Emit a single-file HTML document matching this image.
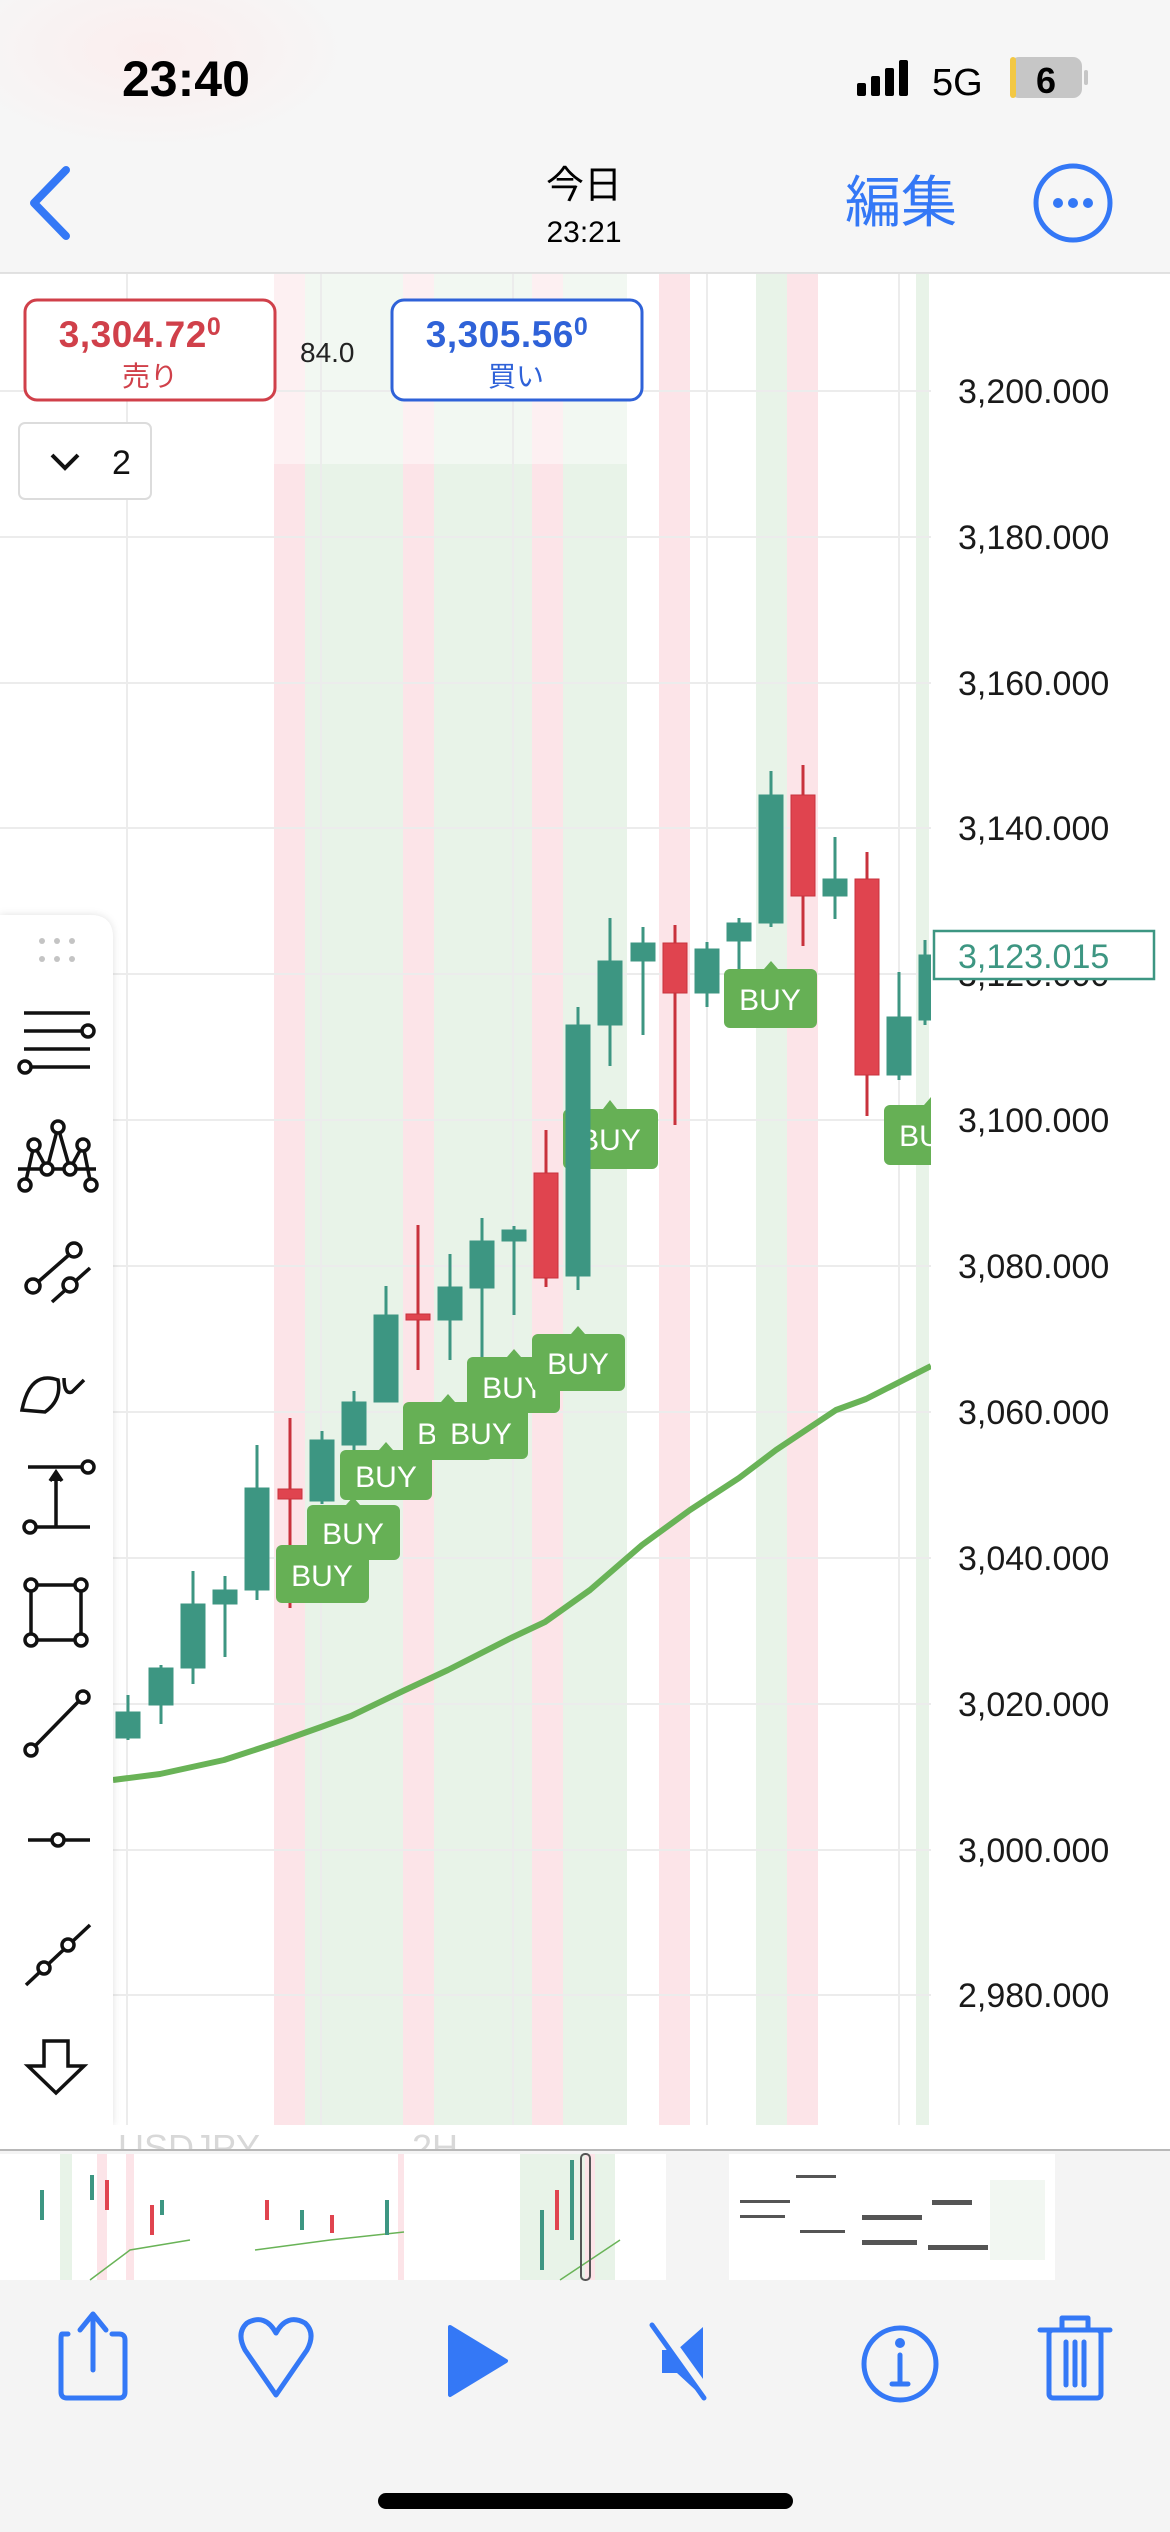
<!DOCTYPE html>
<html><head><meta charset="utf-8"><style>
html,body{margin:0;padding:0;background:#fff;}
svg{display:block}
text{font-family:"Liberation Sans","Noto Sans CJK JP",sans-serif}
</style></head><body>
<svg width="1170" height="2532" viewBox="0 0 1170 2532" xmlns="http://www.w3.org/2000/svg">
<defs>
<radialGradient id="tg" cx="0.55" cy="0" r="0.5">
<stop offset="0" stop-color="#d2d2d2"/><stop offset="1" stop-color="#f6f6f6"/>
</radialGradient>
<radialGradient id="pg" cx="0.5" cy="0.5" r="0.5">
<stop offset="0" stop-color="#fbeeee"/><stop offset="1" stop-color="#f6f6f6"/>
</radialGradient>
<filter id="sh" x="-20%" y="-5%" width="140%" height="110%"><feDropShadow dx="0" dy="0" stdDeviation="4" flood-color="#000" flood-opacity="0.12"/></filter>
<clipPath id="pc"><rect x="0" y="274" width="931" height="1851"/></clipPath>
</defs>
<!-- header -->
<rect x="0" y="0" width="1170" height="273" fill="#f6f6f6"/>
<ellipse cx="600" cy="0" rx="330" ry="140" fill="url(#tg)" opacity="0.9"/>
<ellipse cx="150" cy="50" rx="200" ry="100" fill="url(#pg)"/>
<line x1="0" y1="273" x2="1170" y2="273" stroke="#d8d8d8" stroke-width="1.5"/>
<text x="122" y="96" font-size="50" font-weight="bold" fill="#000">23:40</text>
<rect x="857" y="83" width="9" height="13" rx="2" fill="#000"/>
<rect x="871" y="76" width="9" height="20" rx="2" fill="#000"/>
<rect x="885" y="68" width="9" height="28" rx="2" fill="#000"/>
<rect x="899" y="60" width="9" height="36" rx="2" fill="#000"/>
<text x="932" y="95" font-size="38" fill="#000">5G</text>
<rect x="1010" y="57" width="72" height="41" rx="9" fill="#c6c6c6"/>
<rect x="1010" y="57" width="6" height="41" rx="3" fill="#f3c844"/>
<rect x="1084" y="70" width="4" height="15" rx="2" fill="#c6c6c6"/>
<text x="1046" y="93" font-size="36" font-weight="bold" fill="#000" text-anchor="middle">6</text>
<polyline points="66,170 34,203 66,236" fill="none" stroke="#3478f6" stroke-width="8" stroke-linecap="round" stroke-linejoin="round"/>
<text x="584" y="198" font-size="38" fill="#000" text-anchor="middle">今日</text>
<text x="584" y="242" font-size="30" fill="#000" text-anchor="middle">23:21</text>
<text x="845" y="222" font-size="56" fill="#3478f6">編集</text>
<circle cx="1073" cy="203" r="37" fill="none" stroke="#3478f6" stroke-width="5"/>
<circle cx="1058" cy="203" r="5" fill="#3478f6"/><circle cx="1073" cy="203" r="5" fill="#3478f6"/><circle cx="1088" cy="203" r="5" fill="#3478f6"/>

<!-- chart area -->
<rect x="0" y="274" width="1170" height="1851" fill="#fff"/>
<g>
<rect x="274" y="274" width="31" height="1851" fill="#fce4e8"/>
<rect x="305" y="274" width="98" height="1851" fill="#e8f3e8"/>
<rect x="403" y="274" width="31" height="1851" fill="#fce4e8"/>
<rect x="434" y="274" width="98" height="1851" fill="#e8f3e8"/>
<rect x="532" y="274" width="31" height="1851" fill="#fce4e8"/>
<rect x="563" y="274" width="64" height="1851" fill="#e8f3e8"/>
<rect x="659" y="274" width="31" height="1851" fill="#fce4e8"/>
<rect x="756" y="274" width="31" height="1851" fill="#e8f3e8"/>
<rect x="787" y="274" width="31" height="1851" fill="#fce4e8"/>
<rect x="916" y="274" width="13" height="1851" fill="#e8f3e8"/>
<rect x="0" y="274" width="627" height="190" fill="#fff" opacity="0.45"/>
</g>
<g stroke="#ececec" stroke-width="2">
<line x1="0" y1="391" x2="931" y2="391"/><line x1="0" y1="537" x2="931" y2="537"/>
<line x1="0" y1="683" x2="931" y2="683"/><line x1="0" y1="828" x2="931" y2="828"/>
<line x1="0" y1="974" x2="931" y2="974"/><line x1="0" y1="1120" x2="931" y2="1120"/>
<line x1="0" y1="1266" x2="931" y2="1266"/><line x1="0" y1="1412" x2="931" y2="1412"/>
<line x1="0" y1="1558" x2="931" y2="1558"/><line x1="0" y1="1704" x2="931" y2="1704"/>
<line x1="0" y1="1850" x2="931" y2="1850"/><line x1="0" y1="1995" x2="931" y2="1995"/>
<line x1="127" y1="274" x2="127" y2="2125"/><line x1="321" y1="274" x2="321" y2="2125"/>
<line x1="513" y1="274" x2="513" y2="2125"/><line x1="707" y1="274" x2="707" y2="2125"/>
<line x1="899" y1="274" x2="899" y2="2125"/>
</g>
<!-- y labels -->
<g font-size="34" fill="#1a1a1a">
<text x="958" y="403">3,200.000</text><text x="958" y="549">3,180.000</text>
<text x="958" y="695">3,160.000</text><text x="958" y="840">3,140.000</text>
<text x="958" y="986">3,120.000</text><text x="958" y="1132">3,100.000</text>
<text x="958" y="1278">3,080.000</text><text x="958" y="1424">3,060.000</text>
<text x="958" y="1570">3,040.000</text><text x="958" y="1716">3,020.000</text>
<text x="958" y="1862">3,000.000</text><text x="958" y="2007">2,980.000</text>
</g>
<rect x="934" y="931" width="220" height="48" fill="#fff" stroke="#3d9682" stroke-width="2.5"/>
<text x="958" y="968" font-size="34" fill="#3d9682">3,123.015</text>

<g clip-path="url(#pc)">
<!-- MA -->
<polyline points="113,1780 160,1774 224,1760 276,1743 321,1727 351,1716 403,1691 448,1670 511,1638 545,1622 590,1590 642,1545 690,1510 739,1478 776,1450 836,1410 866,1399 931,1366" fill="none" stroke="#69b357" stroke-width="6" stroke-linejoin="round"/>

<g font-size="30" fill="#fff" text-anchor="middle">
<g><rect x="563" y="1109" width="95" height="60" rx="6" fill="#66b055"/><polygon points="603,1109 610,1100 617,1109" fill="#66b055"/><text x="610" y="1150">BUY</text></g>
</g>
<!-- candles -->
<g fill="#3d9682" stroke="#3d9682">
<line x1="128" y1="1695" x2="128" y2="1740" stroke-width="3"/><rect x="116" y="1712" width="24" height="26"/>
<line x1="161" y1="1665" x2="161" y2="1724" stroke-width="3"/><rect x="149" y="1668" width="24" height="37"/>
<line x1="193" y1="1571" x2="193" y2="1684" stroke-width="3"/><rect x="181" y="1604" width="24" height="64"/>
<line x1="225" y1="1576" x2="225" y2="1657" stroke-width="3"/><rect x="213" y="1590" width="24" height="14"/>
<line x1="257" y1="1445" x2="257" y2="1600" stroke-width="3"/><rect x="245" y="1488" width="24" height="102"/>
<line x1="322" y1="1431" x2="322" y2="1504" stroke-width="3"/><rect x="310" y="1440" width="24" height="61"/>
<line x1="354" y1="1391" x2="354" y2="1456" stroke-width="3"/><rect x="342" y="1402" width="24" height="43"/>
<line x1="386" y1="1286" x2="386" y2="1402" stroke-width="3"/><rect x="374" y="1315" width="24" height="87"/>
<line x1="450" y1="1254" x2="450" y2="1360" stroke-width="3"/><rect x="438" y="1287" width="24" height="33"/>
<line x1="482" y1="1218" x2="482" y2="1360" stroke-width="3"/><rect x="470" y="1241" width="24" height="47"/>
<line x1="514" y1="1226" x2="514" y2="1315" stroke-width="3"/><rect x="502" y="1230" width="24" height="11"/>
<line x1="578" y1="1007" x2="578" y2="1290" stroke-width="3"/><rect x="566" y="1025" width="24" height="251"/>
<line x1="610" y1="918" x2="610" y2="1066" stroke-width="3"/><rect x="598" y="961" width="24" height="64"/>
<line x1="643" y1="927" x2="643" y2="1035" stroke-width="3"/><rect x="631" y="943" width="24" height="18"/>
<line x1="707" y1="942" x2="707" y2="1007" stroke-width="3"/><rect x="695" y="949" width="24" height="44"/>
<line x1="739" y1="918" x2="739" y2="973" stroke-width="3"/><rect x="727" y="923" width="24" height="18"/>
<line x1="771" y1="771" x2="771" y2="927" stroke-width="3"/><rect x="759" y="795" width="24" height="128"/>
<line x1="835" y1="837" x2="835" y2="919" stroke-width="3"/><rect x="823" y="879" width="24" height="17"/>
<line x1="899" y1="972" x2="899" y2="1080" stroke-width="3"/><rect x="887" y="1017" width="24" height="58"/>
<line x1="925" y1="940" x2="925" y2="1025" stroke-width="3"/><rect x="919" y="955" width="12" height="65"/>
</g>
<g fill="#e0444f" stroke="#c8323c">
<line x1="290" y1="1418" x2="290" y2="1608" stroke-width="3"/><rect x="278" y="1489" width="24" height="10"/>
<line x1="418" y1="1225" x2="418" y2="1370" stroke-width="3"/><rect x="406" y="1314" width="24" height="6"/>
<line x1="546" y1="1130" x2="546" y2="1287" stroke-width="3"/><rect x="534" y="1173" width="24" height="105"/>
<line x1="675" y1="925" x2="675" y2="1125" stroke-width="3"/><rect x="663" y="943" width="24" height="50"/>
<line x1="803" y1="765" x2="803" y2="946" stroke-width="3"/><rect x="791" y="795" width="24" height="101"/>
<line x1="867" y1="852" x2="867" y2="1116" stroke-width="3"/><rect x="855" y="879" width="24" height="196"/>
</g>
<!-- BUY labels -->
<g font-size="30" fill="#fff" text-anchor="middle">
<g><rect x="276" y="1545" width="93" height="58" rx="6" fill="#66b055"/><text x="322" y="1586">BUY</text></g>
<g><rect x="307" y="1505" width="93" height="55" rx="6" fill="#66b055"/><polygon points="346,1505 353,1497 360,1505" fill="#66b055"/><text x="353" y="1544">BUY</text></g>
<g><rect x="340" y="1450" width="92" height="50" rx="6" fill="#66b055"/><polygon points="379,1450 386,1442 393,1450" fill="#66b055"/><text x="386" y="1487">BUY</text></g>
<g><rect x="403" y="1402" width="90" height="58" rx="6" fill="#66b055"/><polygon points="441,1402 448,1394 455,1402" fill="#66b055"/><text x="448" y="1444">BUY</text></g>
<g><rect x="435" y="1405" width="93" height="54" rx="6" fill="#66b055"/><polygon points="474,1405 481,1397 488,1405" fill="#66b055"/><text x="481" y="1444">BUY</text></g>
<g><rect x="467" y="1357" width="93" height="56" rx="6" fill="#66b055"/><polygon points="507,1357 514,1349 521,1357" fill="#66b055"/><text x="513" y="1398">BUY</text></g>
<g><rect x="532" y="1334" width="93" height="57" rx="6" fill="#66b055"/><polygon points="571,1334 578,1326 585,1334" fill="#66b055"/><text x="578" y="1374">BUY</text></g>
<g><rect x="724" y="969" width="93" height="59" rx="6" fill="#66b055"/><polygon points="764,969 771,961 778,969" fill="#66b055"/><text x="770" y="1010">BUY</text></g>
<g><rect x="884" y="1105" width="93" height="60" rx="6" fill="#66b055"/><polygon points="924,1105 931,1097 938,1105" fill="#66b055"/><text x="930" y="1146">BUY</text></g>
</g>
</g>

<!-- bid/ask -->
<rect x="25" y="300" width="250" height="100" rx="12" fill="#fff" stroke="#d0404a" stroke-width="3"/>
<text x="140" y="347" font-size="37" fill="#d0404a" text-anchor="middle" font-weight="bold" letter-spacing="0.5">3,304.72<tspan font-size="25" dy="-12">0</tspan></text>
<text x="150" y="386" font-size="28" fill="#d0404a" text-anchor="middle">売り</text>
<text x="300" y="362" font-size="28" fill="#222">84.0</text>
<rect x="392" y="300" width="250" height="100" rx="12" fill="#fff" stroke="#2f62d8" stroke-width="3"/>
<text x="507" y="347" font-size="37" fill="#2f62d8" text-anchor="middle" font-weight="bold" letter-spacing="0.5">3,305.56<tspan font-size="25" dy="-12">0</tspan></text>
<text x="516" y="386" font-size="28" fill="#2f62d8" text-anchor="middle">買い</text>
<rect x="19" y="423" width="132" height="76" rx="6" fill="#fff" stroke="#dcdcdc" stroke-width="2"/>
<polyline points="52,455 65,468 78,455" fill="none" stroke="#111" stroke-width="4"/>
<text x="112" y="474" font-size="34" fill="#111">2</text>

<!-- toolbar -->
<path d="M0,915 H90 Q113,915 113,938 V2125 H0 Z" fill="#fff" filter="url(#sh)"/>
<g fill="#c4c4c4"><circle cx="42" cy="941" r="3"/><circle cx="57" cy="941" r="3"/><circle cx="72" cy="941" r="3"/><circle cx="42" cy="959" r="3"/><circle cx="57" cy="959" r="3"/><circle cx="72" cy="959" r="3"/></g>
<g fill="none" stroke="#111" stroke-width="3.5">
<line x1="24" y1="1013" x2="90" y2="1013"/><line x1="24" y1="1031" x2="82" y2="1031"/><circle cx="88" cy="1031" r="6"/>
<line x1="24" y1="1049" x2="90" y2="1049"/><line x1="32" y1="1067" x2="90" y2="1067"/><circle cx="25" cy="1067" r="6"/>
<line x1="18" y1="1169" x2="96" y2="1169"/>
<polyline points="25,1185 34,1145 47,1169 58,1127 70,1169 83,1145 91,1185"/>
<circle cx="25" cy="1185" r="6" fill="#fff"/><circle cx="34" cy="1145" r="6" fill="#fff"/><circle cx="47" cy="1169" r="6" fill="#fff"/><circle cx="58" cy="1127" r="6" fill="#fff"/><circle cx="70" cy="1169" r="6" fill="#fff"/><circle cx="83" cy="1145" r="6" fill="#fff"/><circle cx="91" cy="1185" r="6" fill="#fff"/>
<line x1="38" y1="1282" x2="70" y2="1254"/><circle cx="33" cy="1286" r="7"/><circle cx="74" cy="1250" r="7"/>
<line x1="52" y1="1302" x2="90" y2="1268"/><circle cx="70" cy="1285" r="7" fill="#fff"/>
<path d="M22,1410 Q30,1370 58,1380 Q62,1400 45,1412 Z"/><path d="M64,1378 Q64,1395 72,1392 L84,1380"/>
<line x1="28" y1="1467" x2="82" y2="1467"/><circle cx="88" cy="1467" r="6"/>
<line x1="56" y1="1527" x2="56" y2="1472"/><polyline points="50,1481 56,1472 62,1481" fill="#111"/>
<line x1="36" y1="1527" x2="90" y2="1527"/><circle cx="30" cy="1527" r="6"/>
<rect x="31" y="1585" width="50" height="55"/><circle cx="31" cy="1585" r="6" fill="#fff"/><circle cx="81" cy="1585" r="6" fill="#fff"/><circle cx="31" cy="1640" r="6" fill="#fff"/><circle cx="81" cy="1640" r="6" fill="#fff"/>
<line x1="35" y1="1746" x2="79" y2="1701"/><circle cx="31" cy="1750" r="6"/><circle cx="83" cy="1697" r="6"/>
<line x1="28" y1="1840" x2="90" y2="1840"/><circle cx="58" cy="1840" r="6" fill="#fff"/>
<line x1="26" y1="1985" x2="90" y2="1925"/><circle cx="44" cy="1968" r="6" fill="#fff"/><circle cx="68" cy="1945" r="6" fill="#fff"/>
<path d="M44,2041 H68 V2066 H84 L56,2093 L28,2066 H44 Z"/>
</g>

<!-- bottom -->
<rect x="0" y="2125" width="1170" height="407" fill="#f4f4f4"/>
<rect x="0" y="2125" width="1170" height="25" fill="#fff"/>
<text x="118" y="2160" font-size="36" fill="#d8d8d8">USDJPY</text>
<text x="412" y="2160" font-size="36" fill="#d8d8d8">2H</text>
<rect x="0" y="2150" width="1170" height="130" fill="#f4f4f4"/>
<line x1="0" y1="2150" x2="1170" y2="2150" stroke="#b8b8b8" stroke-width="2"/>
<g>
<rect x="0" y="2154" width="666" height="126" fill="#fff"/>
<rect x="60" y="2154" width="12" height="126" fill="#e8f3e8"/><rect x="97" y="2154" width="10" height="126" fill="#fce4e8"/>
<rect x="126" y="2154" width="8" height="126" fill="#fce4e8"/>
<rect x="398" y="2154" width="6" height="126" fill="#fce4e8"/>
<rect x="520" y="2154" width="95" height="126" fill="#e8f3e8"/><rect x="585" y="2154" width="10" height="126" fill="#fce4e8"/>
<polyline points="90,2280 130,2250 190,2240" fill="none" stroke="#69b357" stroke-width="1.5"/>
<polyline points="255,2250 330,2240 404,2232" fill="none" stroke="#69b357" stroke-width="1.5"/>
<polyline points="560,2280 620,2240" fill="none" stroke="#69b357" stroke-width="1.5"/>
<g fill="#3d9682"><rect x="40" y="2190" width="4" height="30"/><rect x="90" y="2175" width="4" height="25"/><rect x="160" y="2200" width="4" height="15"/><rect x="300" y="2210" width="4" height="20"/><rect x="385" y="2200" width="4" height="35"/><rect x="540" y="2210" width="4" height="60"/><rect x="570" y="2160" width="4" height="80"/></g>
<g fill="#e0444f"><rect x="105" y="2180" width="4" height="30"/><rect x="150" y="2205" width="4" height="30"/><rect x="265" y="2200" width="4" height="20"/><rect x="330" y="2215" width="4" height="18"/><rect x="555" y="2190" width="4" height="40"/></g>
<rect x="581" y="2154" width="9" height="126" rx="4" fill="none" stroke="#555" stroke-width="2"/>
<rect x="729" y="2154" width="326" height="126" fill="#fff"/>
<g fill="#555"><rect x="740" y="2200" width="50" height="3"/><rect x="740" y="2215" width="45" height="3"/><rect x="796" y="2175" width="40" height="3"/><rect x="800" y="2230" width="45" height="3"/><rect x="862" y="2215" width="60" height="5"/><rect x="862" y="2240" width="55" height="5"/><rect x="928" y="2245" width="60" height="5"/><rect x="932" y="2200" width="40" height="5"/></g>
<rect x="990" y="2180" width="55" height="80" fill="#f2f7f2"/>
</g>
<g fill="none" stroke="#3478f6" stroke-width="5" stroke-linejoin="round" stroke-linecap="round">
<path d="M68,2334 H62 Q61,2334 61,2340 V2392 Q61,2398 67,2398 H119 Q125,2398 125,2392 V2340 Q125,2334 119,2334 H112"/>
<line x1="93" y1="2370" x2="93" y2="2315"/><polyline points="80,2330 93,2314 106,2330"/>
<path d="M276,2395 L245,2350 Q236,2333 247,2323 Q265,2313 276,2333 Q287,2313 305,2323 Q316,2333 307,2350 Z"/>
<circle cx="900" cy="2364" r="36"/><line x1="900" y1="2355" x2="900" y2="2382"/><line x1="892" y1="2384" x2="908" y2="2384"/>
<rect x="1049" y="2330" width="52" height="68" rx="4"/><line x1="1040" y1="2330" x2="1110" y2="2330"/><path d="M1062,2330 V2318 H1088 V2330"/>
<line x1="1066" y1="2342" x2="1066" y2="2385"/><line x1="1075" y1="2342" x2="1075" y2="2385"/><line x1="1084" y1="2342" x2="1084" y2="2385"/>
</g>
<polygon points="450,2327 506,2361 450,2395" fill="#3478f6" stroke="#3478f6" stroke-width="4" stroke-linejoin="round"/>
<polygon points="662,2350 677,2350 703,2327 703,2397 677,2373 662,2373" fill="#3478f6"/>
<line x1="656" y1="2322" x2="712" y2="2400" stroke="#f4f4f4" stroke-width="10"/>
<line x1="652" y1="2325" x2="704" y2="2398" stroke="#3478f6" stroke-width="5" stroke-linecap="round"/>
<circle cx="900" cy="2343" r="5" fill="#3478f6"/>
<rect x="378" y="2493" width="415" height="16" rx="8" fill="#000"/>
</svg>
</body></html>
